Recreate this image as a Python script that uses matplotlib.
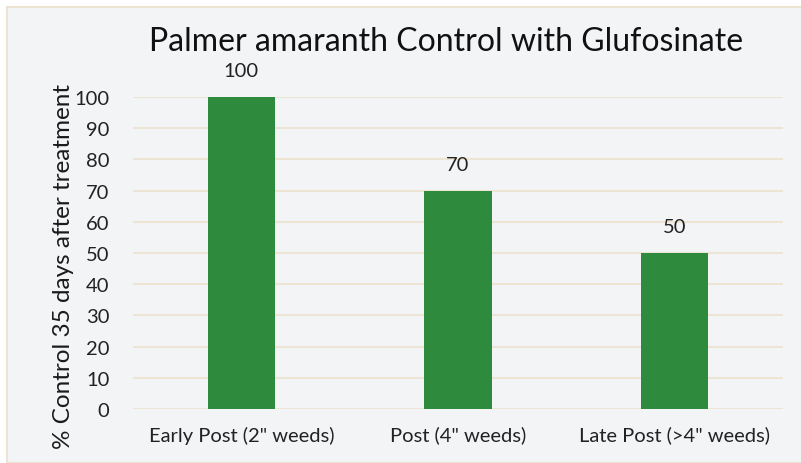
import matplotlib.pyplot as plt
from matplotlib.patches import Rectangle

categories = ['Early Post (2" weeds)', 'Post (4" weeds)', 'Late Post (>4" weeds)']
control = [100, 70, 50]

plt.rcParams['font.family'] = ['Lato', 'DejaVu Sans']

W, H = 801, 464
fig = plt.figure(figsize=(W / 100, H / 100), dpi=100)
fig.patch.set_facecolor('white')

# panel background with thin beige border
fig.patches.append(Rectangle((7 / W, 0), 1 - 7 / W + 0.01, 1 - 8 / H,
                             transform=fig.transFigure, facecolor='#F3F4F6',
                             edgecolor='#EDE3D0', linewidth=1.5, zorder=-10))

ax = fig.add_axes([133 / W, (H - 410) / H, 650 / W, 312 / H])
ax.set_facecolor('none')

x = range(len(categories))
bars = ax.bar(x, control, width=0.31, color='#2E8B3E', zorder=3)
for b, v in zip(bars, control):
    ax.text(b.get_x() + b.get_width() / 2, v + 8.5, str(v), ha='center',
            va='center', fontsize=14.5, color='#222222')

ax.set_xlim(-0.5, 2.5)
ax.set_ylim(0, 100)
ax.set_yticks(range(0, 101, 10))
ax.yaxis.grid(True, color='#EDE4D4', linewidth=1.5, zorder=0)
ax.set_xticks(list(x))
ax.set_xticklabels(categories, fontsize=14.5)
ax.tick_params(axis='both', length=0, labelsize=14.5, colors='#222222')
ax.tick_params(axis='x', pad=12)
ax.tick_params(axis='y', pad=17)
for s in ax.spines.values():
    s.set_visible(False)

ax.set_ylabel('% Control 35 days after treatment', fontsize=17.5, color='#1a1a1a')
ax.yaxis.set_label_coords(-0.09, 0.46)
fig.text(446 / W, 1 - 42 / H, 'Palmer amaranth Control with Glufosinate',
         ha='center', va='center', fontsize=23, color='#111111')

fig.savefig('out.png', dpi=100)
